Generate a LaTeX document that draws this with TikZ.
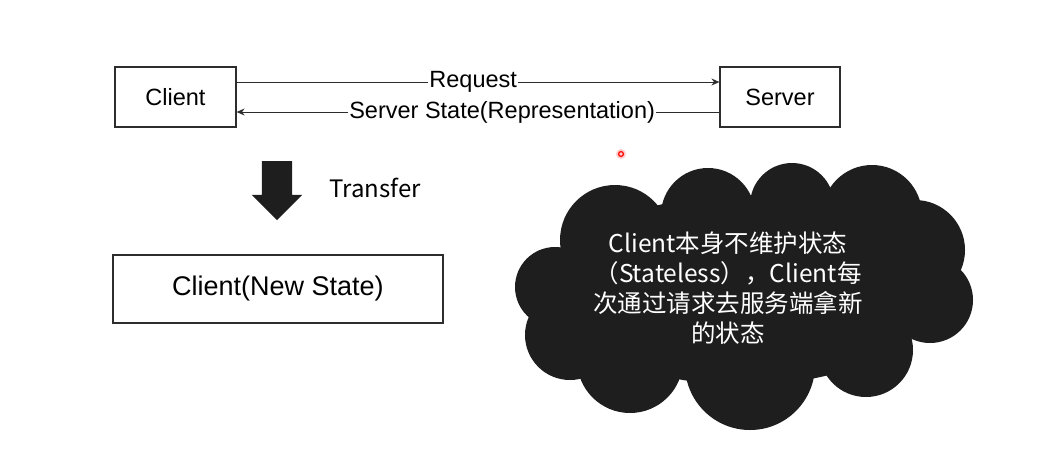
\documentclass[tikz,border=0pt]{standalone}
\usepackage{fontspec}
\setmainfont{Liberation Sans}
\newfontfamily\cjkfont{Noto Sans CJK SC}
\usepackage{xcolor}
\definecolor{ink}{RGB}{45,45,45}
\definecolor{cloudink}{RGB}{30,30,30}
\usepackage{tikz}
\usetikzlibrary{arrows.meta,positioning,shapes.arrows}
\tikzset{
  box/.style={draw=ink,line width=1.2pt,minimum height=60pt,inner sep=0pt,%
    font=\fontsize{23.5}{28}\selectfont},
  msg/.style={-{Stealth[length=8pt,width=7pt]},line width=0.9pt,draw=ink},
  msglabel/.style={fill=white,inner sep=1pt,font=\fontsize{23.5}{28}\selectfont},
  bigarrow/.style={single arrow,fill=cloudink,rotate=-90,inner xsep=0pt,%
    inner ysep=15pt,single arrow head extend=10pt,single arrow head indent=0pt},
  note/.style={text=white,align=center,font=\cjkfont\fontsize{24.5}{30}\selectfont},
}

\begin{document}
\begin{tikzpicture}[x=1pt,y=-1pt]
\useasboundingbox (0,0) rectangle (1049,459);
\node[box,minimum width=121pt] (client) at (175.5,97) {Client};
\node[box,minimum width=120pt] (server) at (780,97) {Server};
\draw[msg] ([yshift=15pt]client.east) -- node[msglabel,pos=0.49]{Request}
  ([yshift=15pt]server.west);
\draw[msg] ([yshift=-15pt]server.west) -- node[msglabel,pos=0.45]{Server State(Representation)}
  ([yshift=-15pt]client.east);
\node[bigarrow,minimum height=59pt] (xfer) at (277,183) {};
\node[anchor=west,font=\cjkfont\fontsize{24}{28}\selectfont] (xferlabel) at (326,188) {Transfer};
\node[box,minimum width=330pt,minimum height=68pt,font=\fontsize{27}{32}\selectfont]
  (newstate) at (278,289) {Client(New State)};
% cloud
\fill[cloudink] (744,290) ellipse [x radius=190,y radius=95];
\foreach \cx/\cy/\r in {615/240/55, 708/215/47, 792/205/42, 872/215/50,
    915/250/50, 930/300/43, 866/350/47, 750/365/65, 630/360/53,
    570/335/45, 555/287/40}
  \fill[cloudink] (\cx,\cy) circle (\r);
\node[note] (stateless) at (728,288)
  {Client本身不维护状态\\（Stateless），Client每\\次通过请求去服务端拿新\\的状态};
% pointer mark
\fill[red!20] (621,154) circle (5);
\draw[red,line width=1.2pt] (621,154) circle (2.4);
\end{tikzpicture}
\end{document}
